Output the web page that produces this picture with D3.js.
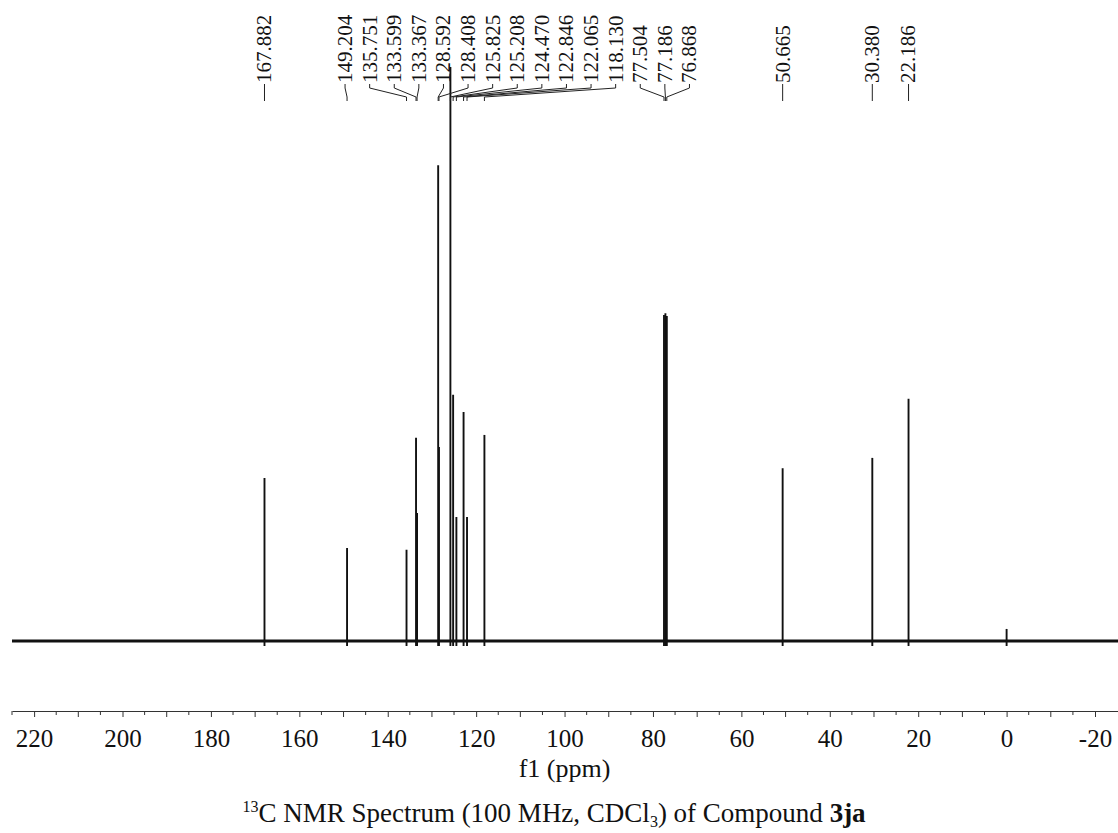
<!DOCTYPE html>
<html>
<head>
<meta charset="utf-8">
<script src="https://cdn.jsdelivr.net/npm/d3@7/dist/d3.min.js"></script>
<style>
  body { margin: 0; background: #fff; }
  text { font-family: "Liberation Serif", "Times New Roman", serif; fill: #111; }
</style>
</head>
<body>
<div id="spectrum"></div>
<script>
// peak positions (ppm) and heights (tallest = 100)
var shifts = [167.882, 149.204, 135.751, 133.599, 133.367, 128.592, 128.408, 125.825, 125.208,
  124.470, 122.846, 122.065, 118.130, 77.504, 77.186, 76.868, 50.665, 30.380, 22.186, 0.0];
var heights = [28.4, 16.2, 15.9, 35.4, 22.3, 82.9, 33.8, 100, 42.9,
  21.6, 39.9, 21.6, 35.9, 56.8, 57.1, 56.6, 30.1, 31.9, 42.2, 2.1];

// peak labels printed at the top
var peakLabels = ["167.882", "149.204", "135.751", "133.599", "133.367", "128.592", "128.408",
  "125.825", "125.208", "124.470", "122.846", "122.065", "118.130", "77.504", "77.186", "76.868",
  "50.665", "30.380", "22.186"];
// labels that are fanned out side by side
var fannedLabels = peakLabels.slice(1, 16);

var tickLabels = [220, 200, 180, 160, 140, 120, 100, 80, 60, 40, 20, 0, -20];

var svgWidth = 1118;
var svgHeight = 833;

var svg = d3.select("#spectrum")
  .append("svg")
  .attr("width", svgWidth)
  .attr("height", svgHeight);

// ppm runs right to left
var xScale = d3.scaleLinear()
  .domain([225, -25.2])
  .range([12, 1118]);

var yScale = d3.scaleLinear()
  .domain([0, 100])
  .range([641, 67]);

// baseline
svg.append("line")
  .attr("x1", xScale(225))
  .attr("x2", xScale(-25.2))
  .attr("y1", yScale(0))
  .attr("y2", yScale(0))
  .attr("stroke", "#111")
  .attr("stroke-width", 3.2);

// peaks
svg.selectAll(".peak")
  .data(shifts)
  .enter()
  .append("line")
  .attr("class", "peak")
  .attr("x1", d => xScale(d))
  .attr("x2", d => xScale(d))
  .attr("y1", yScale(0) + 5)
  .attr("y2", (d, i) => yScale(heights[i]))
  .attr("stroke", "#111")
  .attr("stroke-width", 1.9);

// label layout: fanned group spaced evenly, starting at its first peak
var gap = 24.6;
var fanStart = xScale(+fannedLabels[0]) - 2;
var fanScale = d3.scalePoint()
  .domain(fannedLabels)
  .range([fanStart, fanStart + gap * (fannedLabels.length - 1)]);

function labelX(lab) {
  return fannedLabels.indexOf(lab) >= 0 ? fanScale(lab) : xScale(+lab);
}

var textBottom = 83;

svg.selectAll(".leader")
  .data(peakLabels)
  .enter()
  .append("path")
  .attr("class", "leader")
  .attr("d", d => "M" + labelX(d) + "," + (textBottom + 1) + "V88L" + xScale(+d) + ",97V101")
  .attr("fill", "none")
  .attr("stroke", "#222")
  .attr("stroke-width", 1);

svg.selectAll(".peakLabel")
  .data(peakLabels)
  .enter()
  .append("text")
  .attr("class", "peakLabel")
  .attr("transform", d => `translate(${labelX(d)}, ${textBottom}) rotate(-90)`)
  .attr("dy", "0.33em")
  .attr("font-size", 21)
  .text(d => d);

// x axis
var axisY = 711;
var bottomAxis = d3.axisBottom(xScale)
  .tickValues(tickLabels)
  .tickSize(6)
  .tickSizeOuter(0)
  .tickPadding(12)
  .tickFormat(d => d);

var axisG = svg.append("g")
  .attr("transform", `translate(0, ${axisY})`)
  .call(bottomAxis);

axisG.select(".domain").attr("stroke", "#333").attr("stroke-width", 1.2);
axisG.selectAll(".tick line").attr("stroke", "#333");
axisG.selectAll(".tick text")
  .attr("font-size", 25)
  .attr("font-family", "Liberation Serif, Times New Roman, serif")
  .attr("fill", "#111");

// minor ticks every 5 ppm
var minorTicks = d3.range(225, -25, -5).filter(d => tickLabels.indexOf(d) < 0);
svg.selectAll(".minor")
  .data(minorTicks)
  .enter()
  .append("line")
  .attr("class", "minor")
  .attr("x1", d => xScale(d))
  .attr("x2", d => xScale(d))
  .attr("y1", axisY)
  .attr("y2", d => axisY + (d % 10 === 0 ? 6 : 4))
  .attr("stroke", "#333");

// axis title
svg.append("text")
  .attr("x", xScale(100))
  .attr("y", 777)
  .attr("text-anchor", "middle")
  .attr("font-size", 26)
  .text("f1 (ppm)");

// caption
var caption = svg.append("text")
  .attr("x", 554)
  .attr("y", 822)
  .attr("text-anchor", "middle")
  .attr("font-size", 27);
caption.append("tspan").attr("font-size", 16).attr("dy", -10).text("13");
caption.append("tspan").attr("dy", 10).text("C NMR Spectrum (100 MHz, CDCl");
caption.append("tspan").attr("font-size", 16).attr("dy", 5).text("3");
caption.append("tspan").attr("dy", -5).text(") of Compound ");
caption.append("tspan").attr("font-weight", "bold").text("3ja");
</script>
</body>
</html>
